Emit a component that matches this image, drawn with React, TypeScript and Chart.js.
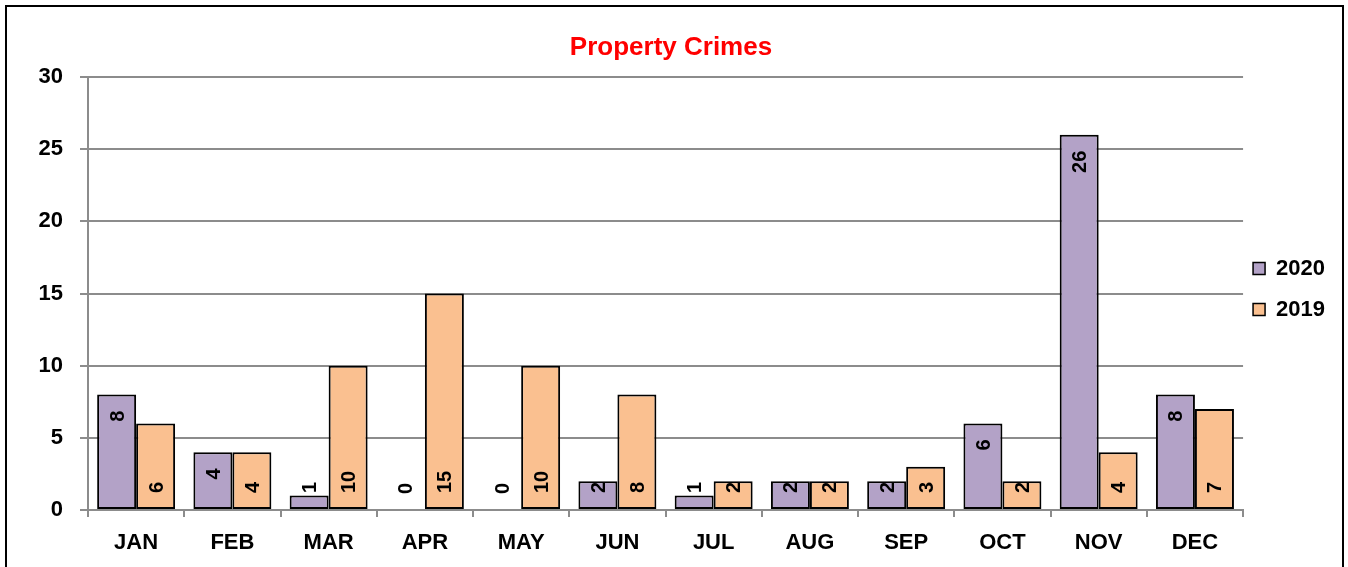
import React, { useEffect, useRef } from "react";
import { Chart, registerables } from "chart.js";

Chart.register(...registerables);

const chartTitle = "Property Crimes";
const months = ["JAN", "FEB", "MAR", "APR", "MAY", "JUN", "JUL", "AUG", "SEP", "OCT", "NOV", "DEC"];
const seriesNames = ["2020", "2019"];
const values2020 = [8, 4, 1, 0, 0, 2, 1, 2, 2, 6, 26, 8];
const values2019 = [6, 4, 10, 15, 10, 8, 2, 2, 3, 2, 4, 7];
const yMin = 0;
const yMax = 30;
const yStep = 5;

const FONT = "'Liberation Sans', Arial, sans-serif";
const GRID = "#8c8c8c";

const barLabelPlugin = {
  id: "barLabels",
  afterDatasetsDraw(chart: any) {
    const ctx = chart.ctx;
    ctx.save();
    ctx.font = `bold 20px ${FONT}`;
    ctx.fillStyle = "#000";
    const capHalf = 7;
    chart.data.datasets.forEach((ds: any, di: number) => {
      const meta = chart.getDatasetMeta(di);
      meta.data.forEach((bar: any, i: number) => {
        const text = String(ds.data[i]);
        const len = ctx.measureText(text).width;
        const base = bar.base;
        const top = bar.y;
        let bottom = base - 16;
        if (di === 0) bottom = Math.min(top + 16 + len, base - 16);
        ctx.save();
        ctx.translate(bar.x + capHalf, bottom);
        ctx.rotate(-Math.PI / 2);
        ctx.textAlign = "left";
        ctx.textBaseline = "alphabetic";
        ctx.fillText(text, 0, 0);
        ctx.restore();
      });
    });
    ctx.restore();
  },
};

export default function App() {
  const canvasRef = useRef<HTMLCanvasElement | null>(null);

  useEffect(() => {
    if (!canvasRef.current) return;
    const font = { family: FONT, size: 22, weight: "bold" as const };
    const chart = new Chart(canvasRef.current, {
      type: "bar",
      data: {
        labels: months,
        datasets: [
          {
            label: seriesNames[0],
            data: values2020,
            backgroundColor: "#b3a2c7",
            borderColor: "#000",
            borderWidth: 2,
            borderSkipped: false,
            barPercentage: 1,
            categoryPercentage: 0.81,
          },
          {
            label: seriesNames[1],
            data: values2019,
            backgroundColor: "#fac090",
            borderColor: "#000",
            borderWidth: 2,
            borderSkipped: false,
            barPercentage: 1,
            categoryPercentage: 0.81,
          },
        ],
      },
      options: {
        responsive: false,
        animation: false,
        devicePixelRatio: 1,
        layout: { padding: { left: 0, right: 7, top: 0, bottom: 0 } },
        plugins: {
          title: {
            display: true,
            text: chartTitle,
            color: "#ff0000",
            font: { family: FONT, size: 26, weight: "bold" },
            padding: { top: 25, bottom: 13.8 },
          },
          legend: {
            position: "right",
            fullSize: false,
            labels: {
              boxWidth: 12,
              boxHeight: 12,
              padding: 10,
              color: "#000",
              font: { family: FONT, size: 22, weight: "bold", lineHeight: 1.41 },
              generateLabels: (c: any) =>
                (Chart.defaults.plugins.legend.labels as any)
                  .generateLabels(c)
                  .map((l: any) => ({ ...l, text: [l.text], lineWidth: 1.5 })),
            },
          },
          tooltip: { enabled: false },
        },
        scales: {
          x: {
            afterFit: (scale: any) => {
              scale.height = 57;
            },
            grid: {
              display: true,
              drawOnChartArea: false,
              drawTicks: true,
              tickLength: 7,
              color: GRID,
              lineWidth: 2,
              offset: true,
            },
            border: { color: GRID, width: 2 },
            ticks: { color: "#000", font, padding: 13, maxRotation: 0, autoSkip: false },
          },
          y: {
            min: yMin,
            max: yMax,
            afterFit: (scale: any) => {
              scale.width = 81;
            },
            grid: { color: GRID, lineWidth: 2, tickLength: 8 },
            border: { color: GRID, width: 2 },
            ticks: { stepSize: yStep, color: "#000", font, padding: 17 },
          },
        },
      },
      plugins: [barLabelPlugin],
    } as any);
    return () => chart.destroy();
  }, []);

  return (
    <div style={{ position: "fixed", left: 0, top: 0, right: 0, bottom: 0, overflow: "hidden", background: "#fff" }}>
      <div
        style={{
          position: "absolute",
          left: 5,
          top: 5,
          width: 1335,
          height: 620,
          border: "2px solid #000",
        }}
      >
        <canvas ref={canvasRef} width={1335} height={560} style={{ display: "block", width: 1335, height: 560 }} />
      </div>
    </div>
  );
}
